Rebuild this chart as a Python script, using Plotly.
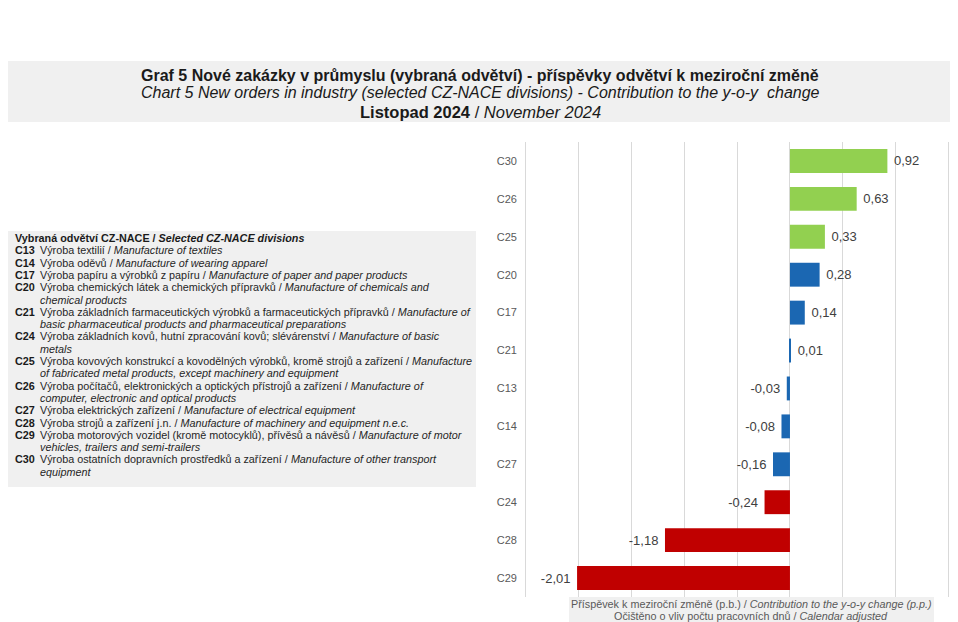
import plotly.graph_objects as go

# ---------------- data ----------------
categories = ["C30", "C26", "C25", "C20", "C17", "C21", "C13", "C14", "C27", "C24", "C28", "C29"]
values = [0.92, 0.63, 0.33, 0.28, 0.14, 0.01, -0.03, -0.08, -0.16, -0.24, -1.18, -2.01]
groups = ["g", "g", "g", "b", "b", "b", "b", "b", "b", "r", "r", "r"]
group_colors = {"g": "#92D050", "b": "#1B67B2", "r": "#C00000"}

title_lines = [
    "<b>Graf 5 Nové zakázky v průmyslu (vybraná odvětví) - příspěvky odvětví k meziroční změně</b>",
    "<i>Chart 5 New orders in industry (selected CZ-NACE divisions) - Contribution to the y-o-y  change</i>",
    "<b>Listopad 2024</b> / <i>November 2024</i>",
]

legend_header_cz = "Vybraná odvětví CZ-NACE"
legend_header_en = "Selected CZ-NACE divisions"
legend_codes = ["C13", "C14", "C17", "C20", "C21", "C24", "C25", "C26", "C27", "C28", "C29", "C30"]
legend_cz = [
    "Výroba textilií",
    "Výroba oděvů",
    "Výroba papíru a výrobků z papíru",
    "Výroba chemických látek a chemických přípravků",
    "Výroba základních farmaceutických výrobků a farmaceutických přípravků",
    "Výroba základních kovů, hutní zpracování kovů; slévárenství",
    "Výroba kovových konstrukcí a kovodělných výrobků, kromě strojů a zařízení",
    "Výroba počítačů, elektronických a optických přístrojů a zařízení",
    "Výroba elektrických zařízení",
    "Výroba strojů a zařízení j.n.",
    "Výroba motorových vozidel (kromě motocyklů), přívěsů a návěsů",
    "Výroba ostatních dopravních prostředků a zařízení",
]
legend_en = [
    "Manufacture of textiles",
    "Manufacture of wearing apparel",
    "Manufacture of paper and paper products",
    "Manufacture of chemicals and|chemical products",
    "Manufacture of|basic pharmaceutical products and pharmaceutical preparations",
    "Manufacture of basic|metals",
    "Manufacture|of fabricated metal products, except machinery and equipment",
    "Manufacture of|computer, electronic and optical products",
    "Manufacture of electrical equipment",
    "Manufacture of machinery and equipment n.e.c.",
    "Manufacture of motor|vehicles, trailers and semi-trailers",
    "Manufacture of other transport|equipment",
]

axis_note = [
    "Příspěvek k meziroční změně (p.b.) / <i>Contribution to the y-o-y change (p.p.)</i>",
    "Očištěno o vliv počtu pracovních dnů / <i>Calendar adjusted</i>",
]

# ---------------- layout helpers ----------------
OFF = 8  # default page body margin
W, H = 958 - OFF, 622 - OFF
ML, MR, MT, MB = 522 - OFF, 6, 142 - OFF, 25
PW, PH = W - ML - MR, H - MT - MB


def px(x):
    return (x - OFF - ML) / PW


def py(y):
    return 1 - (y - OFF - MT) / PH


FONT = "Liberation Sans, Arial, sans-serif"

labels = [(" " + f"{v:.2f}" if v >= 0 else f"{v:.2f}" + " ").replace(".", ",") for v in values]
colors = [group_colors[g] for g in groups]

fig = go.Figure(
    go.Bar(
        x=values,
        y=categories,
        orientation="h",
        marker=dict(color=colors, line=dict(width=0)),
        text=labels,
        textposition="outside",
        cliponaxis=False,
        textfont=dict(size=13, color="#404040", family=FONT),
        hoverinfo="skip",
    )
)

shapes = []
annotations = []

# title box
shapes.append(dict(type="rect", xref="paper", yref="paper",
                   x0=px(3), x1=px(956), y0=py(122), y1=py(61),
                   fillcolor="#F0F0F0", line=dict(width=0), layer="below"))
for t, yy, sz in zip(title_lines, [75, 93, 112], [16, 16, 16.5]):
    annotations.append(dict(xref="paper", yref="paper", x=px(480), y=py(yy),
                            text=t, showarrow=False, xanchor="center", yanchor="middle",
                            font=dict(size=sz, color="#1A1A1A", family=FONT)))

# legend text box
LF = 10.8
shapes.append(dict(type="rect", xref="paper", yref="paper",
                   x0=px(5), x1=px(476), y0=py(487), y1=py(231),
                   fillcolor="#F0F0F0", line=dict(width=0), layer="below"))
line_h = 12.3
yy = 238
annotations.append(dict(xref="paper", yref="paper", x=px(13), y=py(yy),
                        text=f"<b>{legend_header_cz} / <i>{legend_header_en}</i></b>",
                        showarrow=False, xanchor="left", yanchor="middle",
                        font=dict(size=LF, color="#1A1A1A", family=FONT)))
for code, cz, en in zip(legend_codes, legend_cz, legend_en):
    yy += line_h
    parts = en.split("|")
    annotations.append(dict(xref="paper", yref="paper", x=px(13), y=py(yy),
                            text=f"<b>{code}</b>", showarrow=False, xanchor="left", yanchor="middle",
                            font=dict(size=LF, color="#1A1A1A", family=FONT)))
    annotations.append(dict(xref="paper", yref="paper", x=px(38), y=py(yy),
                            text=f"{cz} / <i>{parts[0]}</i>", showarrow=False,
                            xanchor="left", yanchor="middle",
                            font=dict(size=LF, color="#262626", family=FONT)))
    for cont in parts[1:]:
        yy += line_h
        annotations.append(dict(xref="paper", yref="paper", x=px(38), y=py(yy),
                                text=f"<i>{cont}</i>", showarrow=False,
                                xanchor="left", yanchor="middle",
                                font=dict(size=LF, color="#262626", family=FONT)))

# axis note box
shapes.append(dict(type="rect", xref="paper", yref="paper",
                   x0=px(569), x1=px(934), y0=py(622), y1=py(597),
                   fillcolor="#F0F0F0", line=dict(width=0), layer="below"))
for t, yv in zip(axis_note, [603.5, 615.5]):
    annotations.append(dict(xref="paper", yref="paper", x=px(751), y=py(yv),
                            text=t, showarrow=False, xanchor="center", yanchor="middle",
                            font=dict(size=10.8, color="#595959", family=FONT)))

fig.update_layout(
    width=W, height=H,
    margin=dict(l=ML, r=MR, t=MT, b=MB, pad=0),
    paper_bgcolor="white", plot_bgcolor="white",
    showlegend=False,
    bargap=0.37,
    shapes=shapes,
    annotations=annotations,
    font=dict(family=FONT),
    xaxis=dict(range=[-2.53, 1.53], dtick=0.5, tick0=0, showgrid=True,
               gridcolor="#D9D9D9", gridwidth=1, zeroline=True, zerolinecolor="#D9D9D9",
               zerolinewidth=1, showticklabels=False, showline=False, fixedrange=True),
    yaxis=dict(categoryorder="array", categoryarray=categories, autorange="reversed",
               showgrid=False, zeroline=False, showline=False,
               tickfont=dict(size=11, color="#595959", family=FONT),
               ticks="", ticklabelstandoff=4, fixedrange=True),
)

fig.write_html("out.html")
